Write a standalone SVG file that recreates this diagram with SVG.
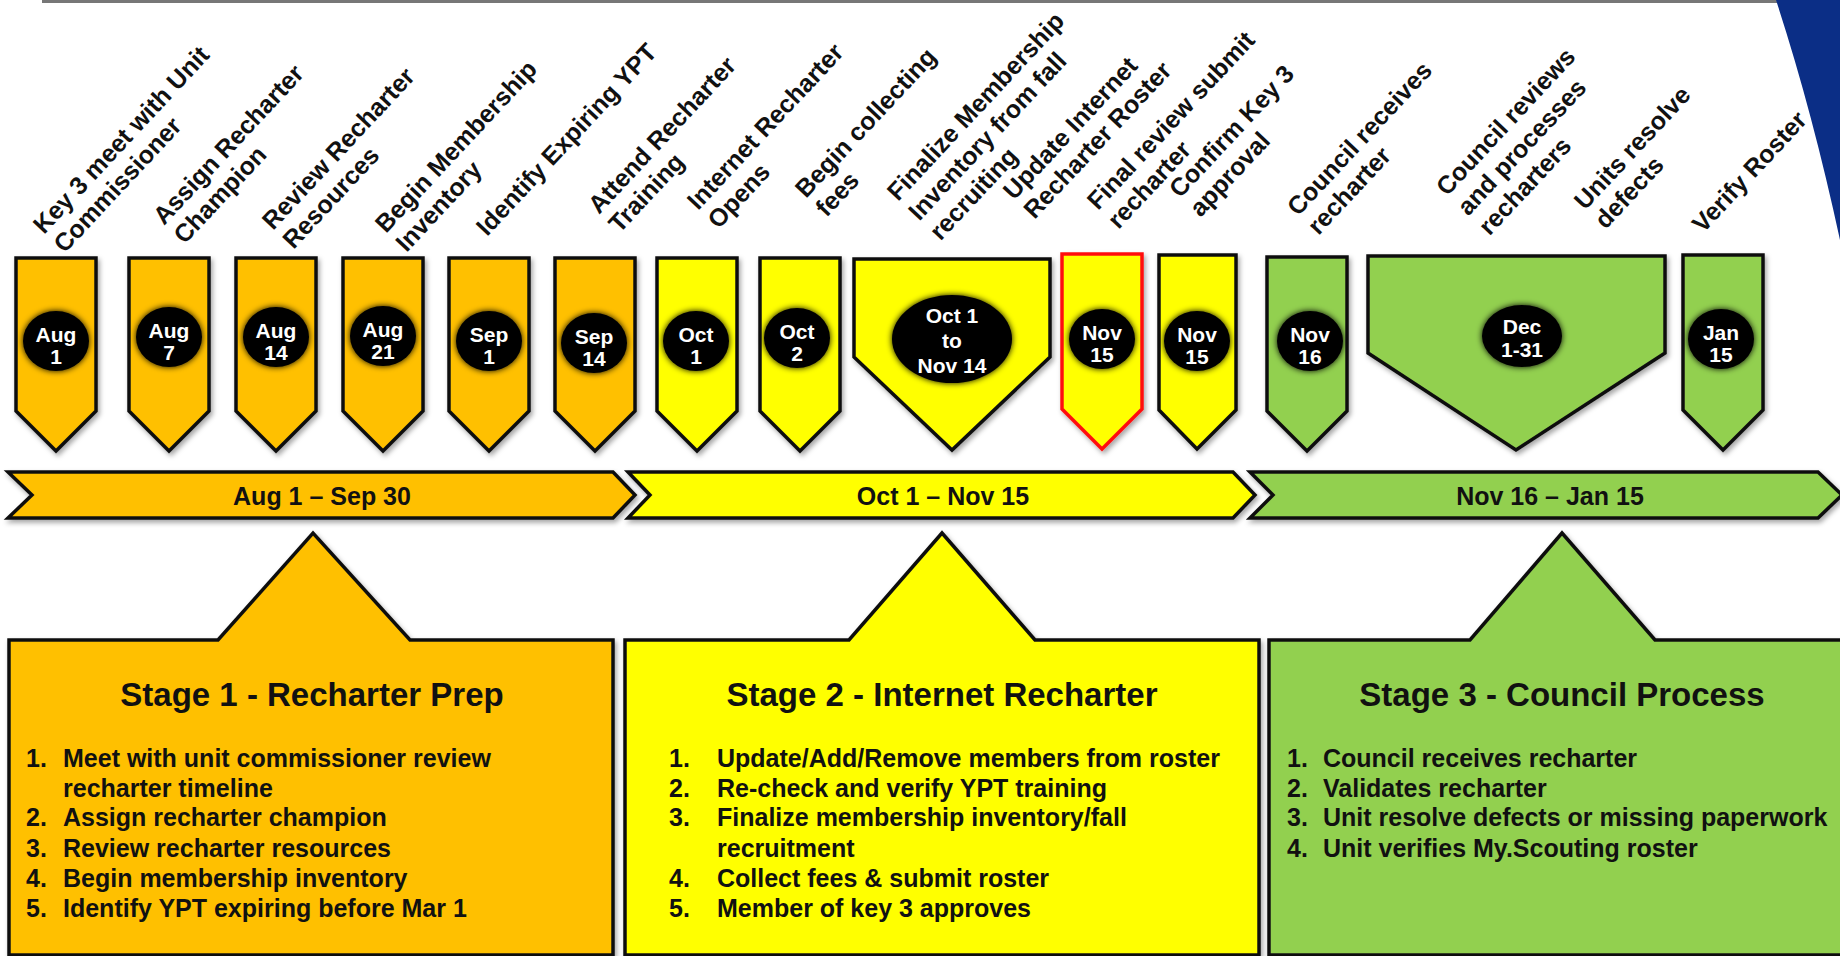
<svg xmlns="http://www.w3.org/2000/svg" width="1840" height="956" viewBox="0 0 1840 956">
<defs>
<filter id="sh" x="-10%" y="-10%" width="130%" height="130%"><feDropShadow dx="2" dy="3" stdDeviation="2.5" flood-color="#000" flood-opacity="0.35"/></filter>
<filter id="glow" x="-30%" y="-30%" width="160%" height="160%"><feGaussianBlur in="SourceGraphic" stdDeviation="3" result="b"/><feMerge><feMergeNode in="b"/><feMergeNode in="SourceGraphic"/></feMerge></filter>
</defs>
<style>
text{font-family:"Liberation Sans",Arial,sans-serif;font-weight:bold;fill:#111}
.o{fill:#FFC000}.y{fill:#FFFF00}.g{fill:#92D050}
.tag{stroke:#111;stroke-width:3.5;stroke-linejoin:miter;filter:url(#sh)}
.red{stroke:#FF1010}
.dot{fill:#000;filter:url(#glow)}
.dt{fill:#fff;font-size:21px;text-anchor:middle}
.lab{font-size:25px}
.bar{stroke:#111;stroke-width:3.5;filter:url(#sh)}
.bt{font-size:25px;text-anchor:middle}
.box{stroke:#111;stroke-width:3.5;filter:url(#sh)}
.ttl{font-size:33px;text-anchor:middle}
.li{font-size:25px}
</style>
<rect x="0" y="0" width="1840" height="956" fill="#fff"/>
<line x1="42" y1="1.5" x2="1780" y2="1.5" stroke="#777" stroke-width="3"/>
<path d="M1776,0 L1840,0 L1840,240 Q1812,110 1776,0 Z" fill="#0B2E86"/>

<g id="labels">
<text class="lab" transform="translate(44,235) rotate(-47)">Key 3 meet with Unit<tspan x="0" dy="28">Commissioner</tspan></text>
<text class="lab" transform="translate(164,226) rotate(-47)">Assign Recharter<tspan x="0" dy="28">Champion</tspan></text>
<text class="lab" transform="translate(273,231) rotate(-47)">Review Recharter<tspan x="0" dy="28">Resources</tspan></text>
<text class="lab" transform="translate(386,234) rotate(-47)">Begin Membership<tspan x="0" dy="28">Inventory</tspan></text>
<text class="lab" transform="translate(487,237) rotate(-47)">Identify Expiring YPT</text>
<text class="lab" transform="translate(599,215) rotate(-47)">Attend Recharter<tspan x="0" dy="28">Training</tspan></text>
<text class="lab" transform="translate(698,211) rotate(-47)">Internet Recharter<tspan x="0" dy="28">Opens</tspan></text>
<text class="lab" transform="translate(806,199) rotate(-47)">Begin collecting<tspan x="0" dy="28">fees</tspan></text>
<text class="lab" transform="translate(898,202) rotate(-47)">Finalize Membership<tspan x="0" dy="29">Inventory from fall</tspan><tspan x="0" dy="29">recruiting</tspan></text>
<text class="lab" transform="translate(1014,201) rotate(-47)">Update Internet<tspan x="0" dy="28">Recharter Roster</tspan></text>
<text class="lab" transform="translate(1098,211) rotate(-47)">Final review submit<tspan x="0" dy="28">recharter</tspan></text>
<text class="lab" transform="translate(1180,199) rotate(-47)">Confirm Key 3<tspan x="0" dy="28">approval</tspan></text>
<text class="lab" transform="translate(1298,217) rotate(-47)">Council receives<tspan x="0" dy="28">recharter</tspan></text>
<text class="lab" transform="translate(1447,197) rotate(-47)">Council reviews<tspan x="0" dy="29">and processes</tspan><tspan x="0" dy="29">recharters</tspan></text>
<text class="lab" transform="translate(1585,211) rotate(-47)">Units resolve<tspan x="0" dy="28">defects</tspan></text>
<text class="lab" transform="translate(1703,234) rotate(-47)">Verify Roster</text>
</g>

<g id="tag-aug1"><path class="tag o" d="M16,258 L96,258 L96,411 L56,451 L16,411 Z"/><ellipse class="dot" cx="56" cy="341" rx="33" ry="30"/><text class="dt" x="56" y="342">Aug<tspan x="56" dy="22">1</tspan></text></g>
<g id="tag-aug7"><path class="tag o" d="M129,258 L209,258 L209,411 L169,451 L129,411 Z"/><ellipse class="dot" cx="169" cy="337" rx="33" ry="30"/><text class="dt" x="169" y="338">Aug<tspan x="169" dy="22">7</tspan></text></g>
<g id="tag-aug14"><path class="tag o" d="M236,258 L316,258 L316,411 L276,451 L236,411 Z"/><ellipse class="dot" cx="276" cy="337" rx="33" ry="30"/><text class="dt" x="276" y="338">Aug<tspan x="276" dy="22">14</tspan></text></g>
<g id="tag-aug21"><path class="tag o" d="M343,258 L423,258 L423,411 L383,451 L343,411 Z"/><ellipse class="dot" cx="383" cy="336" rx="33" ry="30"/><text class="dt" x="383" y="337">Aug<tspan x="383" dy="22">21</tspan></text></g>
<g id="tag-sep1"><path class="tag o" d="M449,258 L529,258 L529,411 L489,451 L449,411 Z"/><ellipse class="dot" cx="489" cy="341" rx="33" ry="30"/><text class="dt" x="489" y="342">Sep<tspan x="489" dy="22">1</tspan></text></g>
<g id="tag-sep14"><path class="tag o" d="M555,258 L635,258 L635,411 L595,451 L555,411 Z"/><ellipse class="dot" cx="594" cy="343" rx="33" ry="30"/><text class="dt" x="594" y="344">Sep<tspan x="594" dy="22">14</tspan></text></g>
<g id="tag-oct1"><path class="tag y" d="M657,258 L737,258 L737,411 L697,451 L657,411 Z"/><ellipse class="dot" cx="696" cy="341" rx="33" ry="30"/><text class="dt" x="696" y="342">Oct<tspan x="696" dy="22">1</tspan></text></g>
<g id="tag-oct2"><path class="tag y" d="M760,258 L840,258 L840,411 L800,451 L760,411 Z"/><ellipse class="dot" cx="797" cy="338" rx="33" ry="30"/><text class="dt" x="797" y="339">Oct<tspan x="797" dy="22">2</tspan></text></g>
<g id="tag-oct1-nov14"><path class="tag y" d="M854,259 L1050,259 L1050,357 L952,450 L854,357 Z"/><ellipse class="dot" cx="952" cy="339" rx="60" ry="44"/><text class="dt" x="952" y="323">Oct 1<tspan x="952" dy="25">to</tspan><tspan x="952" dy="25">Nov 14</tspan></text></g>
<g id="tag-nov15-red"><path class="tag y red" d="M1062,254 L1142,254 L1142,409 L1102,449 L1062,409 Z"/><ellipse class="dot" cx="1102" cy="339" rx="33" ry="30"/><text class="dt" x="1102" y="340">Nov<tspan x="1102" dy="22">15</tspan></text></g>
<g id="tag-nov15"><path class="tag y" d="M1159,255 L1236,255 L1236,410 L1197,449 L1159,410 Z"/><ellipse class="dot" cx="1197" cy="341" rx="33" ry="30"/><text class="dt" x="1197" y="342">Nov<tspan x="1197" dy="22">15</tspan></text></g>
<g id="tag-nov16"><path class="tag g" d="M1267,257 L1347,257 L1347,411 L1307,451 L1267,411 Z"/><ellipse class="dot" cx="1310" cy="341" rx="33" ry="30"/><text class="dt" x="1310" y="342">Nov<tspan x="1310" dy="22">16</tspan></text></g>
<g id="tag-dec"><path class="tag g" d="M1368,256 L1665,256 L1665,353 L1516,450 L1368,353 Z"/><ellipse class="dot" cx="1522" cy="336" rx="40" ry="31"/><text class="dt" x="1522" y="334">Dec<tspan x="1522" dy="23">1-31</tspan></text></g>
<g id="tag-jan15"><path class="tag g" d="M1683,255 L1763,255 L1763,410 L1723,450 L1683,410 Z"/><ellipse class="dot" cx="1721" cy="339" rx="33" ry="30"/><text class="dt" x="1721" y="340">Jan<tspan x="1721" dy="22">15</tspan></text></g>

<g id="bar1"><path class="bar o" d="M8,472 L613,472 L635,495 L613,518 L8,518 L32,495 Z"/><text class="bt" x="322" y="505">Aug 1 – Sep 30</text></g>
<g id="bar2"><path class="bar y" d="M628,472 L1233,472 L1255,495 L1233,518 L628,518 L650,495 Z"/><text class="bt" x="943" y="505">Oct 1 – Nov 15</text></g>
<g id="bar3"><path class="bar g" d="M1250,472 L1818,472 L1842,495 L1818,518 L1250,518 L1273,495 Z"/><text class="bt" x="1550" y="505">Nov 16 – Jan 15</text></g>

<g id="stage1"><path class="box o" d="M9,640 L218,640 L313,533 L410,640 L613,640 L613,955 L9,955 Z"/>
<text class="ttl" x="312" y="706">Stage 1 - Recharter Prep</text>
<text class="li"><tspan x="26" y="767">1.</tspan><tspan x="63" y="767">Meet with unit commissioner review</tspan><tspan x="63" y="797">recharter timeline</tspan><tspan x="26" y="826">2.</tspan><tspan x="63" y="826">Assign recharter champion</tspan><tspan x="26" y="857">3.</tspan><tspan x="63" y="857">Review recharter resources</tspan><tspan x="26" y="887">4.</tspan><tspan x="63" y="887">Begin membership inventory</tspan><tspan x="26" y="917">5.</tspan><tspan x="63" y="917">Identify YPT expiring before Mar 1</tspan></text>
</g>
<g id="stage2"><path class="box y" d="M625,640 L849,640 L942,533 L1035,640 L1259,640 L1259,955 L625,955 Z"/>
<text class="ttl" x="942" y="706">Stage 2 - Internet Recharter</text>
<text class="li"><tspan x="669" y="767">1.</tspan><tspan x="717" y="767">Update/Add/Remove members from roster</tspan><tspan x="669" y="797">2.</tspan><tspan x="717" y="797">Re-check and verify YPT training</tspan><tspan x="669" y="826">3.</tspan><tspan x="717" y="826">Finalize membership inventory/fall</tspan><tspan x="717" y="857">recruitment</tspan><tspan x="669" y="887">4.</tspan><tspan x="717" y="887">Collect fees &amp; submit roster</tspan><tspan x="669" y="917">5.</tspan><tspan x="717" y="917">Member of key 3 approves</tspan></text>
</g>
<g id="stage3"><path class="box g" d="M1269,640 L1470,640 L1562,533 L1655,640 L1845,640 L1845,955 L1269,955 Z"/>
<text class="ttl" x="1562" y="706">Stage 3 - Council Process</text>
<text class="li"><tspan x="1287" y="767">1.</tspan><tspan x="1323" y="767">Council receives recharter</tspan><tspan x="1287" y="797">2.</tspan><tspan x="1323" y="797">Validates recharter</tspan><tspan x="1287" y="826">3.</tspan><tspan x="1323" y="826">Unit resolve defects or missing paperwork</tspan><tspan x="1287" y="857">4.</tspan><tspan x="1323" y="857">Unit verifies My.Scouting roster</tspan></text>
</g>
<g id="connectors"/>
</svg>
